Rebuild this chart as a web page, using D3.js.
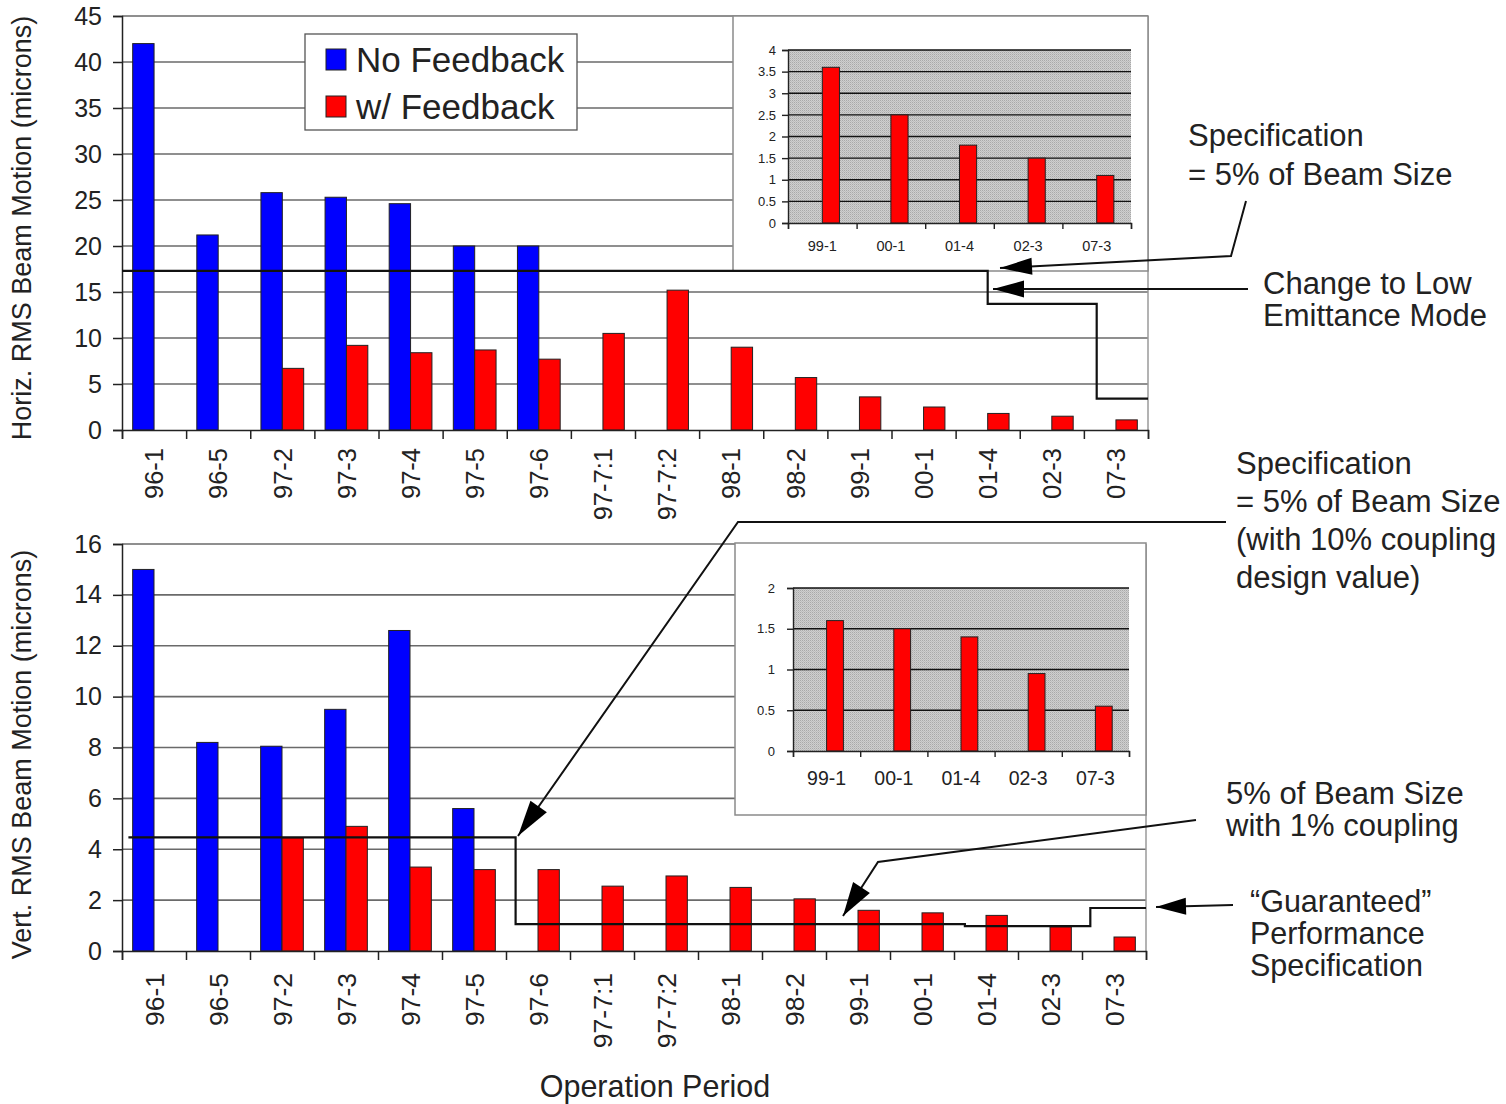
<!DOCTYPE html>
<html>
<head>
<meta charset="utf-8">
<script src="https://cdn.jsdelivr.net/npm/d3@7"></script>
<style>
  body { margin: 0; background: #fff; }
  svg { font-family: 'Liberation Sans', Arial, sans-serif; }
  text { fill: #222; }
</style>
</head>
<body>
<svg id="chart" width="1506" height="1104"></svg>
<script>
// operation periods
const categories = ['96-1', '96-5', '97-2', '97-3', '97-4', '97-5', '97-6', '97-7:1', '97-7:2',
    '98-1', '98-2', '99-1', '00-1', '01-4', '02-3', '07-3'];
const series = ['No Feedback', 'w/ Feedback'];

// horizontal rms motion (microns)
const horizNoFeedback = [42, 21.2, 25.8, 25.3, 24.6, 20, 20, null, null, null, null, null, null, null, null, null];
const horizWithFeedback = [null, null, 6.7, 9.2, 8.4, 8.7, 7.7, 10.5, 15.2, 9.0, 5.7, 3.6, 2.5, 1.8, 1.5, 1.1];
const horizTicks = [0, 5, 10, 15, 20, 25, 30, 35, 40, 45];

// vertical rms motion (microns)
const vertNoFeedback = [15.0, 8.2, 8.05, 9.5, 12.6, 5.6, null, null, null, null, null, null, null, null, null, null];
const vertWithFeedback = [null, null, 4.45, 4.9, 3.3, 3.2, 3.2, 2.55, 2.95, 2.5, 2.05, 1.6, 1.5, 1.4, 0.95, 0.55];
const vertTicks = [0, 2, 4, 6, 8, 10, 12, 14, 16];

// zoomed insets
const insetCategories = ['99-1', '00-1', '01-4', '02-3', '07-3'];
const insetHoriz = [3.6, 2.5, 1.8, 1.5, 1.1];
const insetHorizTicks = [0, 0.5, 1, 1.5, 2, 2.5, 3, 3.5, 4];
const insetVert = [1.6, 1.5, 1.4, 0.95, 0.55];
const insetVertTicks = [0, 0.5, 1, 1.5, 2];

// specification steps: [from, to] in category units, value in microns
const horizSpec = [
    { from: 0, to: 13.5, value: 17.3 },
    { from: 13.5, to: 15.2, value: 13.7 },
    { from: 15.2, to: 16, value: 3.4 }
];
const vertSpec = [
    { from: 0.1, to: 6.15, value: 4.47 },
    { from: 6.15, to: 13.17, value: 1.06 },
    { from: 13.17, to: 15.13, value: 0.98 },
    { from: 15.13, to: 16, value: 1.69 }
];

const colors = { 'No Feedback': '#0000ff', 'w/ Feedback': '#ff0000' };

const svg = d3.select('#chart');

// stipple fill for the inset plot areas
const pat = svg.append('defs').append('pattern')
    .attr('id', 'stipple').attr('width', 2).attr('height', 2)
    .attr('patternUnits', 'userSpaceOnUse');
pat.append('rect').attr('width', 2).attr('height', 2).attr('fill', '#cfcfcf');
pat.append('rect').attr('width', 1).attr('height', 1).attr('fill', '#a9a9a9');
pat.append('rect').attr('x', 1).attr('y', 1).attr('width', 1).attr('height', 1).attr('fill', '#bdbdbd');

function drawMain(cfg) {
    const g = svg.append('g');
    const x = d3.scaleBand().domain(categories).range([cfg.left, cfg.right]);
    const xs = d3.scaleBand().domain(series).range([0, x.bandwidth()]).paddingOuter(0.5);
    const xi = d3.scaleLinear().domain([0, categories.length]).range([cfg.left, cfg.right]);
    const y = d3.scaleLinear().domain([0, d3.max(cfg.ticks)]).range([cfg.bottom, cfg.top]);

    // gridlines
    g.append('g').selectAll('line')
        .data(cfg.ticks.slice(1))
        .join('line')
        .attr('x1', cfg.left).attr('x2', cfg.right)
        .attr('y1', d => y(d)).attr('y2', d => y(d))
        .attr('stroke', '#6a6a6a').attr('stroke-width', 1.6);
    g.append('line')
        .attr('x1', cfg.right).attr('x2', cfg.right)
        .attr('y1', cfg.top).attr('y2', cfg.bottom)
        .attr('stroke', '#9a9a9a').attr('stroke-width', 1.5);

    // bars
    const rows = categories.map((c, i) => ({ cat: c, vals: [
        { s: series[0], v: cfg.noFb[i] }, { s: series[1], v: cfg.withFb[i] }] }));
    g.append('g').selectAll('g')
        .data(rows)
        .join('g')
        .attr('transform', d => `translate(${x(d.cat)},0)`)
        .selectAll('rect')
        .data(d => d.vals.filter(b => b.v != null))
        .join('rect')
        .attr('x', d => xs(d.s))
        .attr('width', xs.bandwidth())
        .attr('y', d => y(d.v))
        .attr('height', d => y(0) - y(d.v))
        .attr('fill', d => colors[d.s])
        .attr('stroke', '#222').attr('stroke-width', 1);

    // y axis
    const yAxis = g.append('g')
        .attr('transform', `translate(${cfg.left},0)`)
        .call(d3.axisLeft(y).tickValues(cfg.ticks).tickSize(9).tickPadding(11).tickFormat(d3.format('d')));
    yAxis.select('.domain').attr('stroke', '#222').attr('stroke-width', 1.5);
    yAxis.selectAll('.tick line').attr('stroke', '#222').attr('stroke-width', 1.5);
    yAxis.selectAll('text').attr('font-size', 25).attr('fill', '#222').attr('font-family', null);

    // x axis: boundary ticks
    const xTickAxis = g.append('g')
        .attr('transform', `translate(0,${cfg.bottom})`)
        .call(d3.axisBottom(xi).tickValues(d3.range(categories.length + 1)).tickSize(9).tickFormat(''));
    xTickAxis.select('.domain').attr('stroke', '#222').attr('stroke-width', 1.5);
    xTickAxis.selectAll('.tick line').attr('stroke', '#222').attr('stroke-width', 1.5);

    // x axis: rotated labels
    const xLab = g.append('g')
        .attr('transform', `translate(0,${cfg.bottom})`)
        .call(d3.axisBottom(x).tickSize(0).tickPadding(0));
    xLab.select('.domain').remove();
    xLab.selectAll('text')
        .attr('font-size', cfg.labelFont).attr('fill', '#222').attr('font-family', null)
        .attr('text-anchor', 'end')
        .attr('transform', 'rotate(-90)')
        .attr('x', -cfg.labelGap).attr('y', 0).attr('dy', '0.36em');

    // axis title
    g.append('text')
        .attr('transform', `translate(${cfg.titleX},${(cfg.top + cfg.bottom) / 2 + cfg.titleShift}) rotate(-90)`)
        .attr('text-anchor', 'middle').attr('dy', '0.35em')
        .attr('font-size', 27)
        .text(cfg.title);

    return { x, xi, y, g };
}

function specLine(chart, steps) {
    const pts = [];
    steps.forEach(s => {
        pts.push([chart.xi(s.from), chart.y(s.value)]);
        pts.push([chart.xi(s.to), chart.y(s.value)]);
    });
    svg.append('path')
        .attr('d', d3.line()(pts))
        .attr('fill', 'none').attr('stroke', '#111').attr('stroke-width', 2.2);
}

function drawInset(cfg) {
    const g = svg.append('g');
    g.append('rect')
        .attr('x', cfg.box[0]).attr('y', cfg.box[1])
        .attr('width', cfg.box[2] - cfg.box[0]).attr('height', cfg.box[3] - cfg.box[1])
        .attr('fill', '#fff').attr('stroke', '#8a8a8a').attr('stroke-width', 1.5);

    const x = d3.scaleBand().domain(insetCategories).range([cfg.left, cfg.right]);
    const xs = d3.scaleBand().domain(series).range([0, x.bandwidth()]).paddingOuter(1);
    const xi = d3.scaleLinear().domain([0, insetCategories.length]).range([cfg.left, cfg.right]);
    const y = d3.scaleLinear().domain([0, d3.max(cfg.ticks)]).range([cfg.bottom, cfg.top]);

    g.append('rect')
        .attr('x', cfg.left).attr('y', cfg.top)
        .attr('width', cfg.right - cfg.left).attr('height', cfg.bottom - cfg.top)
        .attr('fill', 'url(#stipple)');
    g.append('g').selectAll('line')
        .data(cfg.ticks.slice(1))
        .join('line')
        .attr('x1', cfg.left).attr('x2', cfg.right)
        .attr('y1', d => y(d)).attr('y2', d => y(d))
        .attr('stroke', '#111').attr('stroke-width', 1.4);

    g.append('g').selectAll('rect')
        .data(cfg.values.map((v, i) => ({ cat: insetCategories[i], v })))
        .join('rect')
        .attr('x', d => x(d.cat) + xs(series[1]))
        .attr('width', xs.bandwidth())
        .attr('y', d => y(d.v))
        .attr('height', d => y(0) - y(d.v))
        .attr('fill', '#ff0000').attr('stroke', '#222').attr('stroke-width', 1);

    const yAxis = g.append('g')
        .attr('transform', `translate(${cfg.left},0)`)
        .call(d3.axisLeft(y).tickValues(cfg.ticks).tickSize(6).tickPadding(cfg.yPad).tickFormat(d => d));
    yAxis.select('.domain').attr('stroke', '#222').attr('stroke-width', 1.4);
    yAxis.selectAll('.tick line').attr('stroke', '#222').attr('stroke-width', 1.4);
    yAxis.selectAll('text').attr('font-size', cfg.yFont).attr('fill', '#333').attr('font-family', null);

    const xTickAxis = g.append('g')
        .attr('transform', `translate(0,${cfg.bottom})`)
        .call(d3.axisBottom(xi).tickValues(d3.range(insetCategories.length + 1)).tickSize(6).tickFormat(''));
    xTickAxis.select('.domain').attr('stroke', '#222').attr('stroke-width', 1.4);
    xTickAxis.selectAll('.tick line').attr('stroke', '#222').attr('stroke-width', 1.4);

    const xLab = g.append('g')
        .attr('transform', `translate(0,${cfg.bottom})`)
        .call(d3.axisBottom(x).tickSize(0).tickPadding(cfg.xPad));
    xLab.select('.domain').remove();
    xLab.selectAll('text').attr('font-size', cfg.xFont).attr('fill', '#333').attr('font-family', null);
}

function arrow(points, headLen, headW) {
    svg.append('path')
        .attr('d', d3.line()(points))
        .attr('fill', 'none').attr('stroke', '#111').attr('stroke-width', 2);
    const [tx, ty] = points[points.length - 1];
    const [px, py] = points[points.length - 2];
    const a = Math.atan2(ty - py, tx - px);
    const bx = tx - headLen * Math.cos(a), by = ty - headLen * Math.sin(a);
    const nx = -Math.sin(a) * headW / 2, ny = Math.cos(a) * headW / 2;
    svg.append('path')
        .attr('d', `M${tx},${ty}L${bx + nx},${by + ny}L${bx - nx},${by - ny}Z`)
        .attr('fill', '#000');
}

function label(x, y, lines, size, lh) {
    const t = svg.append('text').attr('x', x).attr('y', y).attr('font-size', size);
    lines.forEach((l, i) => t.append('tspan').attr('x', x).attr('dy', i ? lh : 0).text(l));
}

// top chart: horizontal
const topChart = drawMain({
    left: 122, right: 1148, top: 16, bottom: 430,
    ticks: horizTicks, noFb: horizNoFeedback, withFb: horizWithFeedback,
    labelGap: 18, labelFont: 25.5, titleX: 22, titleShift: 5,
    title: 'Horiz. RMS Beam Motion (microns)'
});

// bottom chart: vertical
const botChart = drawMain({
    left: 122, right: 1146, top: 544, bottom: 951,
    ticks: vertTicks, noFb: vertNoFeedback, withFb: vertWithFeedback,
    labelGap: 22, labelFont: 26.5, titleX: 22, titleShift: 7,
    title: 'Vert. RMS Beam Motion (microns)'
});

svg.append('text')
    .attr('x', 655).attr('y', 1097)
    .attr('text-anchor', 'middle').attr('font-size', 30.5)
    .text('Operation Period');

// legend
const leg = svg.append('g');
leg.append('rect').attr('x', 305).attr('y', 34).attr('width', 272).attr('height', 96)
    .attr('fill', '#fff').attr('stroke', '#555').attr('stroke-width', 1.3);
series.forEach((s, i) => {
    leg.append('rect').attr('x', 326).attr('y', 49 + i * 47).attr('width', 20).attr('height', 21)
        .attr('fill', colors[s]).attr('stroke', '#222').attr('stroke-width', 1);
    leg.append('text').attr('x', 356).attr('y', 72 + i * 47).attr('font-size', 35).text(s);
});

// insets
drawInset({
    box: [733, 16, 1148, 271], left: 788, right: 1131, top: 50, bottom: 223,
    ticks: insetHorizTicks, values: insetHoriz, yFont: 13, yPad: 6, xFont: 14.5, xPad: 18
});
drawInset({
    box: [735, 543, 1146, 815], left: 793, right: 1129, top: 588, bottom: 751,
    ticks: insetVertTicks, values: insetVert, yFont: 13, yPad: 12, xFont: 19.5, xPad: 20
});

// specification lines
specLine(topChart, horizSpec);
specLine(botChart, vertSpec);

// callouts
arrow([[1246, 201], [1231, 256], [1000, 268]], 32, 17);
arrow([[1248, 289], [993, 289]], 31, 17);
arrow([[1226, 522], [738, 522], [518, 836]], 36, 20);
arrow([[1196, 820], [878, 862], [843, 916]], 34, 20);
arrow([[1233, 905], [1156, 907]], 30, 17);

label(1188, 146, ['Specification', '= 5% of Beam Size'], 31, 39);
label(1263, 294, ['Change to Low', 'Emittance Mode'], 31, 32);
label(1236, 474, ['Specification', '= 5% of Beam Size', '(with 10% coupling', 'design value)'], 31, 38);
label(1226, 804, ['5% of Beam Size', 'with 1% coupling'], 31, 32);
label(1250, 912, ['\u201CGuaranteed\u201D', 'Performance', 'Specification'], 30.5, 32);
</script>
</body>
</html>
